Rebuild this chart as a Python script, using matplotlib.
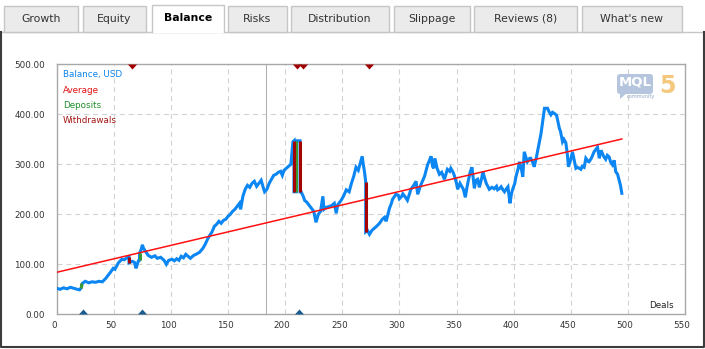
import matplotlib.pyplot as plt
import matplotlib.transforms as mtransforms
from matplotlib.patches import Rectangle, FancyBboxPatch, Polygon
from matplotlib.path import Path

plt.rcParams['font.family'] = ['DejaVu Sans']

# balance curve, read as (deal, value) pairs
deals = [0, 3, 6, 9, 12, 15, 18, 20, 21.5, 22.5, 25, 28, 31, 34, 37, 40, 43, 45, 47,
         49.5, 51, 54, 57, 59, 61.5, 63.3, 63.3, 66, 68, 69.5, 70.5, 71.5, 72.5, 72.5,
         74, 75, 76, 78, 80, 83, 86, 88, 91, 94, 96, 98, 101, 103, 105, 107, 109, 111,
         113, 115, 117, 120, 122, 125, 128, 130, 132, 134, 136, 138, 140, 142, 144, 146,
         148, 150, 152, 154, 156, 158, 160, 161, 163, 165, 167, 169, 171, 173, 175, 177,
         179, 181, 182, 184, 186, 188, 190, 192, 194, 196, 197.5, 199, 201, 203, 205,
         206.8, 207.7, 207.7, 209.7, 209.7, 213, 213, 214, 216, 217, 219, 221, 223, 225,
         227, 229, 231, 233, 234, 236, 239, 241, 243, 244.7, 246, 249, 251, 253.5, 256,
         258, 260, 262, 264, 266, 267.4, 268.5, 269.5, 270.5, 270.5, 272, 273.8, 276, 278,
         280, 282.6, 285, 287, 288.4, 290, 291.3, 293, 294, 297, 299, 300, 302, 303, 305,
         307, 309, 310, 312, 314.6, 316, 318, 319, 322, 324.8, 326, 327.7, 329, 330, 331,
         333, 335, 337, 339.4, 341, 342, 344, 345, 347, 348, 350, 351, 353, 354, 356,
         357.7, 359, 360, 362, 363.5, 365.6, 367, 368.5, 370, 372, 373, 375, 376, 378.7,
         381, 383, 385, 386, 388, 389, 391, 392, 394, 395, 396.8, 398, 399, 401, 402, 404,
         405, 407, 408, 409.3, 411, 412, 414, 415, 417, 418, 420, 422, 424, 426, 427,
         429.7, 431, 432.6, 434, 435.5, 437.6, 440, 441, 442.8, 444, 445.7, 447, 448, 450,
         451.5, 453, 454.5, 456, 458.8, 460, 461.7, 463.2, 465, 466, 468, 470.4, 472,
         473.4, 475, 476.5, 477.7, 479, 480.6, 482, 483.5, 485, 486.5, 488, 489.4, 491,
         492.3, 493.5, 494.7]
balance = [52, 50, 53, 51, 54, 52, 50, 49, 53, 62, 66, 63, 65, 64, 66, 65, 72, 78, 84,
           92, 90, 103, 110, 109, 113, 115, 103, 106, 104, 92, 100, 107, 108, 122,
           130, 139, 132, 125, 118, 114, 117, 112, 114, 108, 100, 108, 110, 107, 111, 108,
           116, 113, 120, 116, 112, 118, 120, 124, 132, 140, 150, 158, 165, 176, 180, 186,
           182, 188, 190, 196, 200, 206, 210, 216, 222, 210, 236, 250, 258, 254, 262, 266,
           256, 262, 268, 252, 245, 250, 262, 270, 278, 280, 284, 286, 278, 288, 292, 296,
           300, 345, 347, 245, 245, 347, 347, 245, 245, 235, 228, 224, 218, 212, 206, 184,
           200, 206, 236, 210, 214, 216, 218, 222, 202, 219, 228, 236, 249, 245, 262, 276,
           294, 288, 304, 316, 298, 284, 265, 165, 168, 160, 168, 172, 176, 182, 190, 194,
           186, 200, 212, 222, 230, 240, 238, 231, 236, 241, 235, 228, 242, 250, 256, 266,
           240, 254, 260, 276, 300, 306, 316, 296, 292, 312, 292, 280, 284, 270, 282, 290,
           286, 292, 284, 278, 262, 250, 262, 258, 250, 234, 252, 264, 285, 294, 252, 268,
           270, 254, 272, 285, 270, 262, 250, 254, 251, 256, 249, 252, 255, 248, 245, 252,
           255, 222, 240, 249, 262, 275, 292, 305, 288, 275, 325, 312, 305, 312, 312, 302,
           295, 315, 338, 362, 395, 412, 412, 405, 399, 404, 402, 398, 372, 366, 345, 350,
           343, 320, 295, 310, 325, 308, 292, 294, 290, 296, 294, 312, 306, 305, 312, 325,
           330, 334, 312, 328, 322, 315, 310, 318, 315, 304, 299, 308, 285, 280, 269, 258,
           242]

# straight average line end points
avg_deals = [0, 494.7]
avg_values = [84, 350.6]

# deposits and withdrawals (deal, balance before, balance after)
dep_deals = [21.5, 72.5, 209.7]
dep_from = [53, 108, 245]
dep_to = [62, 122, 347]
wd_deals = [63.3, 207.7, 213, 270.5]
wd_from = [115, 347, 347, 265]
wd_to = [103, 245, 245, 165]

# event markers on the frame
top_marks = [66, 210.5, 215.5, 273]
bottom_marks = [23.3, 74.3, 211.8]

cursor_deal = 183.5

x_ticks = list(range(0, 551, 50))
y_ticks = [0, 100, 200, 300, 400, 500]

tab_names = ["Growth", "Equity", "Balance", "Risks", "Distribution", "Slippage",
             "Reviews (8)", "What's new"]
active_tab = "Balance"

# colours
c_balance = '#0b86f2'
c_avg = '#ff1010'
c_dep = '#3c9a32'
c_wd = '#a50505'
c_grid = '#d2d2d2'
c_frame = '#a8a8a8'
c_text = '#333333'

W, H = 705, 349
fig = plt.figure(figsize=(W / 100, H / 100), dpi=100)
fig.patch.set_facecolor('white')

ax_l, ax_r, ax_t, ax_b = 56.7, 685.0, 64.3, 314.3
ax = fig.add_axes([ax_l / W, (H - ax_b) / H, (ax_r - ax_l) / W, (ax_b - ax_t) / H])
ax.set_xlim(0, 550)
ax.set_ylim(0, 500)

for x in x_ticks[1:-1]:
    ax.axvline(x, color=c_grid, lw=0.8, ls=(0, (4.5, 3.5)), zorder=1)
for y in y_ticks[1:-1]:
    ax.axhline(y, color=c_grid, lw=0.8, ls=(0, (4.5, 3.5)), zorder=1)

ax.axvline(cursor_deal, color='#b0b0b0', lw=0.75, zorder=2)

ax.plot(avg_deals, avg_values, color=c_avg, lw=1.1, zorder=4)
ax.plot(deals, balance, color=c_balance, lw=2.2, solid_joinstyle='miter', zorder=3)

ax.vlines(dep_deals, dep_from, dep_to, color=c_dep, lw=2.2, zorder=5)
ax.vlines(wd_deals, wd_from, wd_to, color=c_wd, lw=2.2, zorder=5)

down_tri = Path([(-1, 0), (1, 0), (0, -1.1), (-1, 0)], closed=True)
up_tri = Path([(-1, 0), (1, 0), (0, 1.1), (-1, 0)], closed=True)
ax.plot(top_marks, [500] * len(top_marks), ls='none', marker=down_tri, ms=7.2,
        color='#a00000', mew=0, clip_on=False, zorder=6)
ax.plot(bottom_marks, [0] * len(bottom_marks), ls='none', marker=up_tri, ms=7.2,
        color='#1a5c8e', mew=0, clip_on=False, zorder=6)

ax.set_xticks(x_ticks)
ax.set_xticklabels([str(v) for v in x_ticks])
ax.set_yticks(y_ticks)
ax.set_yticklabels(['%.2f' % v for v in y_ticks])
ax.tick_params(length=0, labelsize=6.3, labelcolor=c_text)
ax.tick_params(axis='x', pad=5)
ax.tick_params(axis='y', pad=8.5)
shift = mtransforms.ScaledTranslation(-3 / 100, 0, fig.dpi_scale_trans)
for lbl in ax.get_xticklabels():
    lbl.set_transform(lbl.get_transform() + shift)
for s in ax.spines.values():
    s.set_color(c_frame)
    s.set_linewidth(1.0)

# overlay in pixel coordinates: tabs, panel border, legend, logo
deco = fig.add_axes([0, 0, 1, 1], zorder=5)
deco.set_xlim(0, W)
deco.set_ylim(H, 0)
deco.axis('off')
deco.patch.set_alpha(0)

tab_edges = [(4, 78), (83, 146), (152, 224), (228, 287), (291, 389), (394, 470),
             (474, 577), (582, 682)]
deco.plot([0, W], [31.5, 31.5], color='#c6c6c6', lw=1)
for name, (x0, x1) in zip(tab_names, tab_edges):
    if name == active_tab:
        deco.add_patch(Rectangle((x0, 4.5), x1 - x0, 28, facecolor='white',
                                 edgecolor='none', zorder=3))
        deco.plot([x0, x0, x1, x1], [32, 4.5, 4.5, 32], color='#c6c6c6', lw=1, zorder=4)
        deco.text((x0 + x1) / 2, 18, name, ha='center', va='center', fontsize=7.8,
                  fontweight='bold', color='black', zorder=5)
    else:
        deco.add_patch(Rectangle((x0, 5.5), x1 - x0, 26, facecolor='#ebebeb',
                                 edgecolor='#c6c6c6', lw=1, zorder=2))
        deco.text((x0 + x1) / 2, 18.5, name, ha='center', va='center', fontsize=7.8,
                  color='#333333', zorder=5)

# dark outer border of the panel
deco.plot([0.8, 0.8, 703.8, 703.8], [31.5, 346.5, 346.5, 31.5], color='#3c3c3c',
          lw=1.5, zorder=6)

legend_items = [("Balance, USD", '#0a84f0'), ("Average", '#e01010'),
                ("Deposits", '#1f8f2a'), ("Withdrawals", '#a51515')]
for i, (label, col) in enumerate(legend_items):
    deco.text(63, 75 + i * 15.2, label, ha='left', va='center', fontsize=6.3, color=col)

deco.text(674, 305, "Deals", ha='right', va='center', fontsize=6.3, color='#222222')

# MQL5 community logo
deco.add_patch(FancyBboxPatch((617, 74), 36, 20, boxstyle='round,pad=0,rounding_size=3',
                              facecolor='#b4c5dd', edgecolor='none', zorder=3))
deco.add_patch(Polygon([(620, 93), (627, 93), (620, 99)], closed=True,
                       facecolor='#b4c5dd', edgecolor='none', zorder=3))
deco.text(635, 82, "MQL", ha='center', va='center', fontsize=9.5, fontweight='bold',
          color='white', zorder=4)
deco.text(641, 96.5, "community", ha='center', va='center', fontsize=3.6,
          color='#8ea4c2', zorder=4)
deco.text(667, 86, "5", ha='center', va='center', fontsize=17, fontweight='bold',
          color='#f4c97f', zorder=4)

fig.savefig('out.png', dpi=100)
